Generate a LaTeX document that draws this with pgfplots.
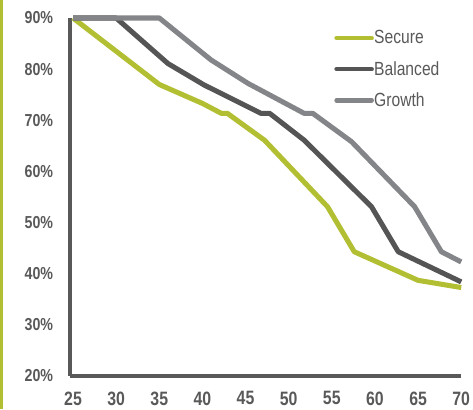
\documentclass[border=0pt]{standalone}
\usepackage{fontspec}
\setmainfont{Liberation Sans}
\newfontfamily\narrowfont[FakeStretch=0.82]{Liberation Sans}
\usepackage{pgfplots}
\pgfplotsset{compat=1.18}
\definecolor{secgreen}{HTML}{B3BF32}
\definecolor{baldark}{HTML}{555555}
\definecolor{growgray}{HTML}{838588}
\definecolor{axisgray}{HTML}{595959}
\begin{document}
\begin{tikzpicture}
\begin{axis}[
    name=ax,
    scale only axis,
    width=293.4pt, height=268.5pt,
    xmin=24.65, xmax=70, ymin=20, ymax=90,
    clip=false,
    axis lines=left,
    axis line style={draw=axisgray, line width=3pt, -},
    xtick={25,30,...,70},
    xticklabels={25,30,35,40,45,50,55,60,65,70},
    ytick={20,30,...,90},
    yticklabels={20\%,30\%,40\%,50\%,60\%,70\%,80\%,90\%},
    major tick length=0pt,
    tick label style={text=axisgray, inner sep=0pt},
    xticklabel style={font=\narrowfont\bfseries\fontsize{14.5}{16}\selectfont, anchor=north, yshift=-11.5pt},
    yticklabel style={font=\narrowfont\bfseries\fontsize{13}{15}\selectfont, anchor=east, xshift=-12.5pt},
    legend cell align=left,
    legend style={at={(rel axis cs:0.675,0.966)}, anchor=north west,
      draw=none, fill=none, inner sep=0pt,
      font=\narrowfont\fontsize{14.3}{15}\selectfont, text=axisgray,
      row sep=11.6pt,
      nodes={inner xsep=0.2pt, inner ysep=0pt}},
    legend image code/.code={\draw[#1, line cap=round, line width=3.2pt] (0pt,0pt) -- (26.5pt,0pt);},
    every axis plot/.append style={line width=3.8pt, line join=round},
  ]
  \addplot[secgreen] coordinates {
    (25,90)(35,77)(40,73.3)(42.2,71.35)(42.9,71.35)(47.2,66.1)(54.5,53.1)(57.6,44.3)(65,38.7)(70,37.3)
  };
  \addlegendentry{Secure}
  \addplot[baldark] coordinates {
    (25,90)(30,90)(36,81.1)(40.2,76.9)(46.8,71.35)(47.8,71.35)(51.8,66.1)(59.6,53.1)(62.7,44.3)(70,38.4)
  };
  \addlegendentry{Balanced}
  \addplot[growgray] coordinates {
    (25,90)(35,90)(41,81.8)(45.3,77.2)(51.8,71.35)(52.8,71.35)(57.3,65.8)(64.6,53.1)(67.7,44.3)(70,42.3)
  };
  \addlegendentry{Growth}
\end{axis}
% decorative bar and page frame
\fill[secgreen] ([xshift=-52.5pt,yshift=13.5pt]ax.north west) rectangle ([xshift=-50.25pt,yshift=-24.75pt]ax.south west);
\useasboundingbox ([xshift=-52.5pt,yshift=13.5pt]ax.north west) rectangle ([xshift=302.25pt,yshift=-24.75pt]ax.south west);
\end{tikzpicture}
\end{document}
